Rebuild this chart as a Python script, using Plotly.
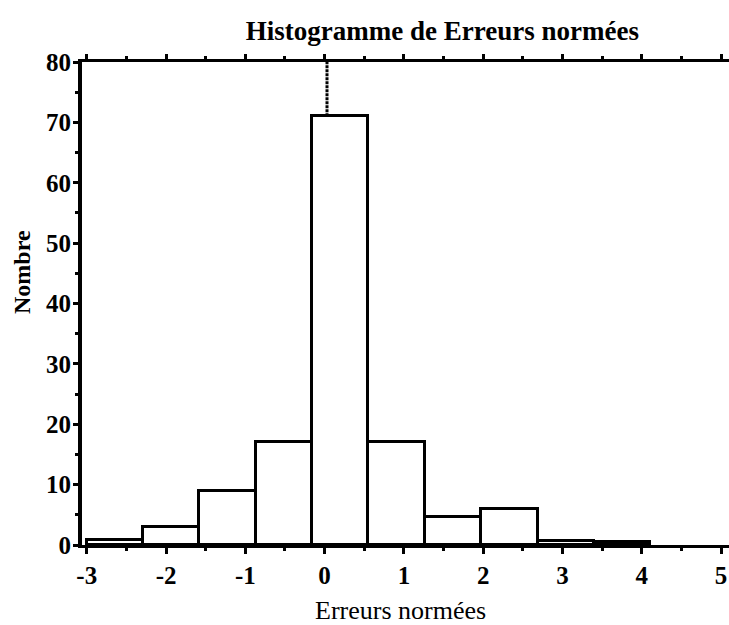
import plotly.graph_objects as go

# Histogram of normalised errors: bin edges and counts per bin
bin_edges = [-3.0, -2.289, -1.579, -0.868, -0.158, 0.553, 1.264, 1.974, 2.685, 3.395, 4.106]
counts = [0.8, 3, 9, 17, 71, 17, 4.7, 6, 0.7, 0.5]

# Position of the reference marker drawn from the top of the central bin
marker_x = [0.03, 0.03]
marker_y = [71, 80]

x_ticks = [-3, -2, -1, 0, 1, 2, 3, 4, 5]
y_ticks = [0, 10, 20, 30, 40, 50, 60, 70, 80]

centers = [(a + b) / 2 for a, b in zip(bin_edges[:-1], bin_edges[1:])]
widths = [b - a for a, b in zip(bin_edges[:-1], bin_edges[1:])]

SERIF = "Liberation Serif"
X_RANGE = [-3.06, 5.1]

fig = go.Figure()
fig.add_trace(go.Bar(
    x=centers, y=counts, width=widths,
    marker=dict(color="white", line=dict(color="black", width=3)),
    hoverinfo="skip", showlegend=False,
))
# marker line lives on the top axis so that axis is drawn with its ticks
fig.add_trace(go.Scatter(
    x=marker_x, y=marker_y, mode="lines", xaxis="x2",
    line=dict(color="black", width=3, dash="3px,1px"),
    hoverinfo="skip", showlegend=False,
))

tick_common = dict(
    tickmode="array", tickvals=x_ticks,
    ticks="outside", tickcolor="black",
    showgrid=False, zeroline=False,
)

fig.update_layout(
    width=729, height=625,
    margin=dict(l=82, r=0, t=62, b=80),
    paper_bgcolor="white", plot_bgcolor="white",
    bargap=0,
    title=dict(
        text="<b>Histogramme de Erreurs normées</b>",
        font=dict(family=SERIF, size=27, color="black"),
        x=0.557, xref="paper", xanchor="center",
        y=1 - 31 / 625, yref="container", yanchor="middle",
    ),
    xaxis=dict(
        range=X_RANGE,
        ticktext=[str(v) for v in x_ticks],
        ticklen=6, tickwidth=3,
        minor=dict(dtick=0.5, tick0=0, ticks="outside", ticklen=3,
                   tickwidth=3, tickcolor="black"),
        showline=True, linecolor="black", linewidth=3, mirror=False,
        tickfont=dict(family=SERIF, size=25, color="black", weight="bold"),
        **tick_common,
    ),
    xaxis2=dict(
        range=X_RANGE, overlaying="x", side="top",
        showticklabels=False,
        ticklen=5, tickwidth=3,
        minor=dict(dtick=0.5, tick0=0, ticks="outside", ticklen=3,
                   tickwidth=3, tickcolor="black"),
        showline=True, linecolor="black", linewidth=2.5,
        **tick_common,
    ),
    yaxis=dict(
        range=[0, 80],
        tickmode="array", tickvals=y_ticks,
        ticktext=[str(v) for v in y_ticks],
        ticks="outside", ticklen=5, tickwidth=3, tickcolor="black",
        ticklabelstandoff=-3,
        minor=dict(dtick=5, tick0=0, ticks="outside", ticklen=3,
                   tickwidth=3, tickcolor="black"),
        showline=True, linecolor="black", linewidth=4, mirror=False,
        showgrid=False, zeroline=False,
        tickfont=dict(family=SERIF, size=25, color="black", weight="bold"),
    ),
    annotations=[
        dict(
            text="<b>Nombre</b>", textangle=-90,
            x=(22 - 82) / 647, xref="paper", xanchor="center",
            y=(545 - 272) / 483, yref="paper", yanchor="middle",
            showarrow=False,
            font=dict(family=SERIF, size=24, color="black"),
        ),
        dict(
            text="Erreurs normées",
            x=(400 - 82) / 647, xref="paper", xanchor="center",
            y=(545 - 610) / 483, yref="paper", yanchor="middle",
            showarrow=False,
            font=dict(family=SERIF, size=26, color="black"),
        ),
    ],
)

fig.write_html("out.html")
